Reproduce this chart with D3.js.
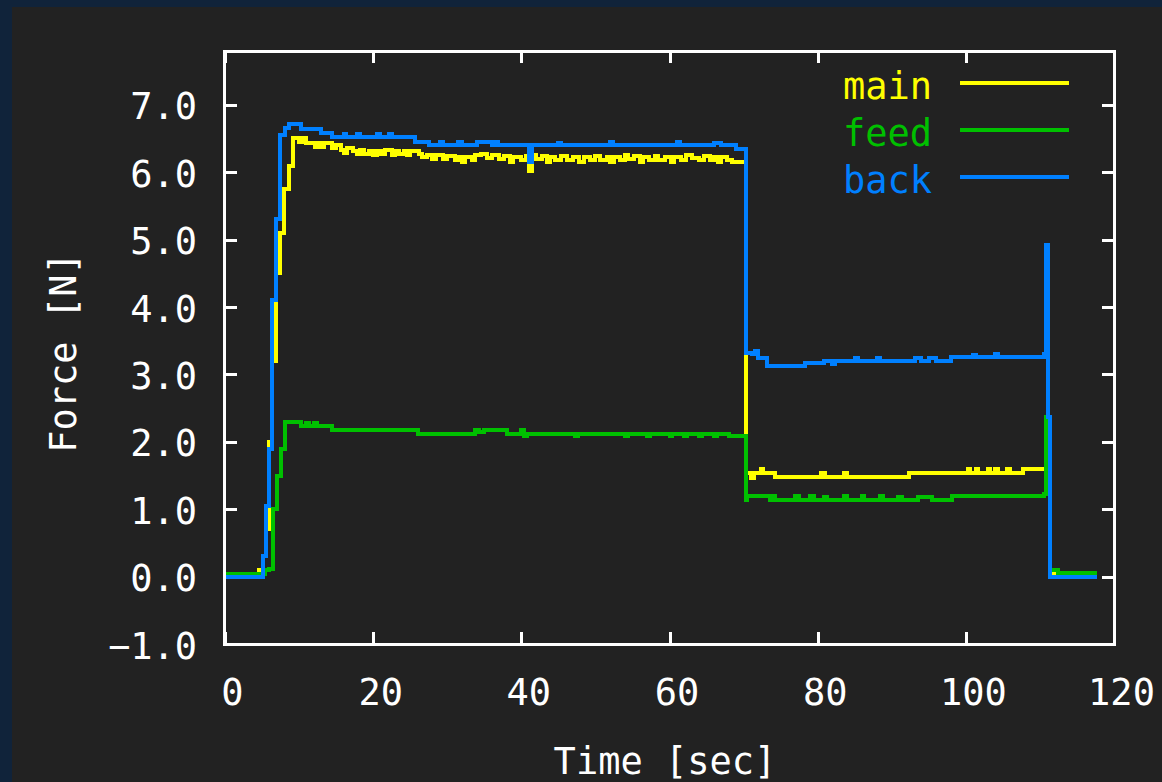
<!DOCTYPE html>
<html>
<head>
<meta charset="utf-8">
<script src="https://cdn.jsdelivr.net/npm/d3@7/dist/d3.min.js"></script>
<style>
	html, body { margin: 0; padding: 0; background: #10233a; }
	svg { display: block; }
</style>
</head>
<body>
<script>
//****************************************************************************************************************************//
// Data  (time [sec], force [N])

var seriesNames = ["main", "feed", "back"];
var seriesColors = ["#ffff00", "#00c000", "#0080ff"];

var xTicks = [0, 20, 40, 60, 80, 100, 120];
var yTicks = [-1, 0, 1, 2, 3, 4, 5, 6, 7];

var mainData = [
	[0, 0.02], [4.6, 0.1], [5.1, 0.3], [5.6, 0.7], [6.0, 2.0], [6.4, 3.2], [6.9, 4.5], [7.4, 5.1], [8.0, 5.75], [8.6, 6.1],
	[9.2, 6.51], [10.0, 6.45], [10.4, 6.51], [10.9, 6.43], [12.1, 6.38], [12.4, 6.43], [12.9, 6.38], [13.4, 6.43], [14.5, 6.36],
	[15.0, 6.40], [15.6, 6.33], [16.0, 6.29], [16.5, 6.36], [17.3, 6.31], [17.8, 6.27], [18.2, 6.33], [18.7, 6.27], [19.4, 6.31],
	[20.0, 6.25], [20.5, 6.31], [21.0, 6.27], [21.6, 6.33], [22.5, 6.25], [22.9, 6.31], [23.5, 6.27], [24.2, 6.31], [24.6, 6.25],
	[25.0, 6.31], [26.2, 6.27], [26.6, 6.22], [27.3, 6.25], [28.0, 6.19], [28.5, 6.25], [29.4, 6.19], [30.0, 6.24], [31.0, 6.18],
	[31.6, 6.22], [32.0, 6.16], [32.4, 6.22], [33.3, 6.18], [33.8, 6.25], [34.5, 6.27], [35.3, 6.21], [36.0, 6.25], [37.0, 6.19],
	[37.7, 6.24], [38.5, 6.16], [38.9, 6.22], [40.0, 6.18], [40.6, 6.24], [41.0, 6.02], [41.4, 6.25], [42.0, 6.19], [42.8, 6.24],
	[43.5, 6.16], [43.9, 6.22], [44.5, 6.18], [45.4, 6.24], [46.2, 6.18], [47.0, 6.22], [47.8, 6.16], [48.4, 6.22], [49.3, 6.18],
	[50.0, 6.24], [50.6, 6.18], [51.5, 6.22], [52.0, 6.16], [52.5, 6.22], [53.3, 6.18], [54.0, 6.25], [54.4, 6.19], [55.2, 6.24],
	[56.0, 6.16], [56.4, 6.22], [57.2, 6.18], [58.0, 6.24], [58.5, 6.18], [59.4, 6.22], [60.2, 6.16], [60.6, 6.22], [61.5, 6.18],
	[62.2, 6.25], [63.0, 6.21], [64.0, 6.18], [64.6, 6.24], [65.4, 6.18], [66.0, 6.22], [66.5, 6.16], [67.0, 6.22], [67.8, 6.18],
	[68.5, 6.15], [70.3, 1.54], [71.0, 1.47], [71.4, 1.54], [72.3, 1.60], [72.6, 1.54], [74.3, 1.48], [80.5, 1.54], [81.0, 1.48],
	[83.5, 1.54], [84.0, 1.48], [92.3, 1.54], [100.3, 1.60], [100.6, 1.54], [101.4, 1.60], [101.7, 1.54], [103.0, 1.60],
	[103.3, 1.54], [104.0, 1.60], [104.3, 1.54], [105.6, 1.60], [105.9, 1.54], [107.7, 1.60], [110.8, 2.0], [111.4, 0.05],
	[117.7, 0.05]
];

var feedData = [
	[0, 0.04], [5.4, 0.1], [6.0, 0.12], [6.5, 1.0], [7.0, 1.5], [7.6, 1.9], [8.1, 2.29], [10.3, 2.23], [11.0, 2.28], [11.4, 2.23],
	[12.0, 2.28], [12.4, 2.23], [14.5, 2.17], [26.1, 2.12], [33.8, 2.17], [34.3, 2.14], [35.0, 2.17], [38.0, 2.12], [40.0, 2.17],
	[40.3, 2.09], [40.7, 2.12], [47.2, 2.09], [47.6, 2.12], [54.0, 2.09], [54.4, 2.12], [57.0, 2.09], [57.4, 2.12], [60.0, 2.09],
	[60.3, 2.12], [62.0, 2.09], [62.4, 2.12], [64.0, 2.09], [64.4, 2.12], [66.0, 2.09], [66.4, 2.12], [68.0, 2.08], [70.3, 1.14],
	[70.5, 1.19], [73.5, 1.14], [74.0, 1.19], [74.3, 1.14], [77.0, 1.19], [77.5, 1.14], [79.0, 1.19], [79.5, 1.14], [80.8, 1.18],
	[81.3, 1.14], [83.6, 1.19], [84.0, 1.14], [86.0, 1.19], [86.3, 1.14], [88.4, 1.19], [88.8, 1.14], [90.8, 1.18], [91.4, 1.14],
	[93.5, 1.18], [95.5, 1.14], [98.2, 1.19], [110.5, 1.22], [110.8, 2.37], [111.4, 0.1], [112.4, 0.05], [117.7, 0.05]
];

var backData = [
	[0, 0.0], [5.1, 0.3], [5.6, 1.05], [6.0, 1.9], [6.4, 4.1], [6.9, 5.3], [7.4, 6.55], [8.1, 6.65], [8.7, 6.71], [10.3, 6.64],
	[12.9, 6.58], [14.5, 6.52], [16.0, 6.57], [16.4, 6.52], [17.8, 6.57], [18.2, 6.52], [20.5, 6.57], [20.9, 6.52], [22.1, 6.57],
	[22.5, 6.52], [25.7, 6.45], [27.5, 6.40], [29.0, 6.45], [29.4, 6.40], [31.5, 6.45], [32.0, 6.40], [34.0, 6.45], [36.0, 6.40],
	[36.3, 6.45], [36.8, 6.40], [41.0, 6.15], [41.4, 6.40], [45.0, 6.43], [45.4, 6.40], [52.0, 6.45], [52.4, 6.40], [61.0, 6.45],
	[61.4, 6.40], [66.0, 6.43], [67.0, 6.40], [69.0, 6.35], [70.3, 3.32], [71.2, 3.30], [71.6, 3.35], [72.0, 3.24], [73.2, 3.13],
	[78.3, 3.17], [80.8, 3.20], [82.0, 3.15], [82.4, 3.20], [85.0, 3.24], [85.4, 3.20], [88.0, 3.25], [88.4, 3.20], [93.2, 3.25],
	[94.0, 3.20], [95.0, 3.25], [96.0, 3.20], [98.0, 3.26], [101.0, 3.29], [101.4, 3.26], [104.0, 3.30], [104.4, 3.26], [110.5, 3.30],
	[110.8, 4.92], [111.1, 2.37], [111.4, 0.0], [117.7, 0.0]
];

var allSeries = [mainData, feedData, backData];

//****************************************************************************************************************************//
// Canvas

var width = 1162, height = 782;
var fontFamily = "'DejaVu Sans Mono', 'Liberation Mono', monospace";
var fontSize = 37;

var canvas = d3.select("body").append("svg")
				.attr("width", width)
				.attr("height", height);

canvas.append("rect")
		.attr("x", 0)
		.attr("y", 0)
		.attr("width", width)
		.attr("height", height)
		.attr("fill", "#10233a");

canvas.append("rect")
		.attr("x", 12)
		.attr("y", 7)
		.attr("width", width - 12)
		.attr("height", height - 7)
		.attr("fill", "#222222");

var plot = { left : 225, right : 1114, top : 51, bottom : 644 };

var xScale = d3.scaleLinear()
				.domain([0, 120])
				.range([plot.left, plot.right]);

var yScale = d3.scaleLinear()
				.domain([-1, 7.8])
				.range([plot.bottom, plot.top]);

//****************************************************************************************************************************//
// Axes

function styleAxis(g){
	g.select(".domain").remove();
	g.selectAll(".tick line")
		.attr("stroke", "white")
		.attr("stroke-width", 3)
		.attr("shape-rendering", "crispEdges");
	g.selectAll(".tick text")
		.attr("fill", "white")
		.style("font-family", fontFamily)
		.style("font-size", fontSize + "px");
}

var xAxis = d3.axisBottom(xScale)
				.tickValues(xTicks)
				.tickFormat(d3.format("d"))
				.tickSizeInner(-12)
				.tickSizeOuter(0)
				.tickPadding(35);

canvas.append("g")
		.attr("transform", "translate(0," + plot.bottom + ")")
		.call(xAxis)
		.call(styleAxis)
		.selectAll(".tick text")
		.attr("dx", 7);

canvas.append("g")
		.attr("transform", "translate(0," + plot.top + ")")
		.call(d3.axisTop(xScale).tickValues(xTicks).tickFormat("").tickSizeInner(-12).tickSizeOuter(0))
		.call(styleAxis);

var yAxis = d3.axisLeft(yScale)
				.tickValues(yTicks)
				.tickFormat(d3.format(".1f"))
				.tickSizeInner(-12)
				.tickSizeOuter(0)
				.tickPadding(28);

canvas.append("g")
		.attr("transform", "translate(" + plot.left + ",0)")
		.call(yAxis)
		.call(styleAxis)
		.selectAll(".tick text")
		.attr("dy", "0.38em")
		.text(function(d){ return d3.format(".1f")(d).replace("-", "\u2212"); });

canvas.append("g")
		.attr("transform", "translate(" + plot.right + ",0)")
		.call(d3.axisRight(yScale).tickValues(yTicks).tickFormat("").tickSizeInner(-12).tickSizeOuter(0))
		.call(styleAxis);

// axis titles
canvas.append("text")
		.attr("transform", "translate(65," + ((plot.top + plot.bottom) / 2 + 5) + ") rotate(-90)")
		.attr("text-anchor", "middle")
		.attr("dominant-baseline", "middle")
		.attr("fill", "white")
		.style("font-family", fontFamily)
		.style("font-size", fontSize + "px")
		.text("Force [N]");

canvas.append("text")
		.attr("x", 665)
		.attr("y", 763)
		.attr("text-anchor", "middle")
		.attr("dominant-baseline", "middle")
		.attr("fill", "white")
		.style("font-family", fontFamily)
		.style("font-size", fontSize + "px")
		.text("Time [sec]");

//****************************************************************************************************************************//
// Lines

var line = d3.line()
			.x(function(d){ return xScale(d[0]); })
			.y(function(d){ return yScale(d[1]); })
			.curve(d3.curveStepAfter);

allSeries.forEach(function(data, i){
	canvas.append("path")
		.attr("d", line(data))
		.attr("fill", "none")
		.attr("stroke", seriesColors[i])
		.attr("stroke-width", 4)
		.attr("stroke-linejoin", "miter")
		.attr("shape-rendering", "crispEdges");
});

// frame
canvas.append("rect")
		.attr("x", plot.left - 1)
		.attr("y", plot.top)
		.attr("width", plot.right - plot.left + 1)
		.attr("height", plot.bottom - plot.top)
		.attr("fill", "none")
		.attr("stroke", "white")
		.attr("stroke-width", 3)
		.attr("shape-rendering", "crispEdges");

//****************************************************************************************************************************//
// Legend

var legend = canvas.append("g");

seriesNames.forEach(function(name, i){
	var ly = 83 + i * 47;
	legend.append("line")
		.attr("x1", 960)
		.attr("x2", 1069)
		.attr("y1", ly)
		.attr("y2", ly)
		.attr("stroke", seriesColors[i])
		.attr("stroke-width", 4)
		.attr("shape-rendering", "crispEdges");
	legend.append("text")
		.attr("x", 932)
		.attr("y", ly)
		.attr("dy", "0.42em")
		.attr("text-anchor", "end")
		.attr("fill", seriesColors[i])
		.style("font-family", fontFamily)
		.style("font-size", fontSize + "px")
		.text(name);
});
</script>
</body>
</html>
